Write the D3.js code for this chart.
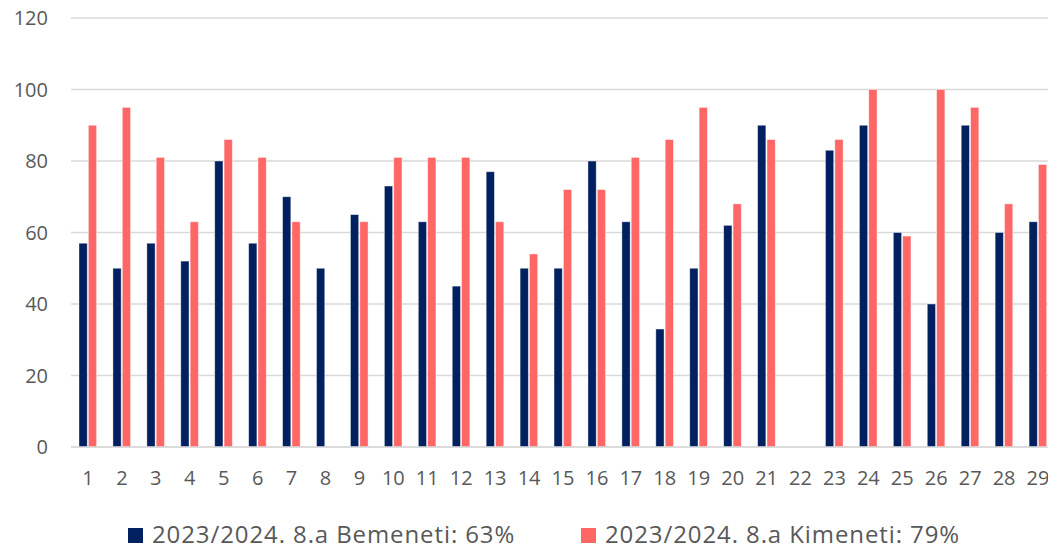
<!DOCTYPE html>
<html>
<head>
<meta charset="utf-8">
<script src="https://cdn.jsdelivr.net/npm/d3@7"></script>
<style>
    body { margin: 0; background: #fff; }
    svg { display: block; font-family: 'Open Sans', sans-serif; }
    .tick-label { fill: #595959; font-size: 20px; }
    .legend-label { fill: #595959; font-size: 24px; letter-spacing: 0.9px; }
</style>
</head>
<body>
<div id="chart"></div>
<script>
// categories (student numbers)
let categories = d3.range(1, 30).map(String);
// null = no bar
let bemeneti = [57, 50, 57, 52, 80, 57, 70, 50, 65, 73, 63, 45, 77, 50, 50,
    80, 63, 33, 50, 62, 90, null, 83, 90, 60, 40, 90, 60, 63];
let kimeneti = [90, 95, 81, 63, 86, 81, 63, null, 63, 81, 81, 81, 63, 54, 72,
    72, 81, 86, 95, 68, 86, null, 86, 100, 59, 100, 95, 68, 79];
let seriesNames = ['2023/2024. 8.a Bemeneti: 63%', '2023/2024. 8.a Kimeneti: 79%'];
let seriesColors = ['#002060', '#ff6666'];
let yTicks = [0, 20, 40, 60, 80, 100, 120];

let width = 1048,
    height = 549;

let svg = d3.select('#chart')
    .append('svg')
    .attr('width', width)
    .attr('height', height);

let x0 = d3.scaleBand()
    .domain(categories)
    .range([71, 1055]);

let x1 = d3.scaleBand()
    .domain([0, 1])
    .range([8, 25.6])
    .paddingInner(0.12);

let y = d3.scaleLinear()
    .domain([0, 120])
    .range([447, 18]);

// gridlines
svg.append('g')
    .selectAll('line')
    .data(yTicks)
    .enter()
    .append('line')
    .attr('x1', 71)
    .attr('x2', width)
    .attr('y1', d => y(d))
    .attr('y2', d => y(d))
    .attr('stroke', '#d9d9d9')
    .attr('stroke-width', 1.3);

// y labels
svg.append('g')
    .selectAll('text')
    .data(yTicks)
    .enter()
    .append('text')
    .attr('class', 'tick-label')
    .attr('x', 48)
    .attr('y', d => y(d))
    .attr('dy', '0.35em')
    .attr('text-anchor', 'end')
    .text(d => d);

// bars
let rows = categories.map(function(c, i) {
    return {cat: c, values: [bemeneti[i], kimeneti[i]]};
});

let groups = svg.append('g')
    .selectAll('g')
    .data(rows)
    .enter()
    .append('g')
    .attr('transform', d => 'translate(' + x0(d.cat) + ',0)');

groups.selectAll('rect')
    .data(d => d.values.map((v, k) => ({k: k, v: v})).filter(e => e.v !== null))
    .enter()
    .append('rect')
    .attr('x', d => x1(d.k))
    .attr('width', x1.bandwidth())
    .attr('y', d => y(d.v))
    .attr('height', d => y(0) - y(d.v))
    .attr('fill', d => seriesColors[d.k])
    .attr('stroke', '#fff')
    .attr('stroke-opacity', 0.5)
    .attr('stroke-width', 0.8);

// x axis line
svg.append('line')
    .attr('x1', 71)
    .attr('x2', width)
    .attr('y1', y(0))
    .attr('y2', y(0))
    .attr('stroke', '#d9d9d9')
    .attr('stroke-width', 1.3);

// x labels
svg.append('g')
    .selectAll('text')
    .data(categories)
    .enter()
    .append('text')
    .attr('class', 'tick-label')
    .attr('x', d => x0(d) + x0.bandwidth() / 2)
    .attr('y', 485)
    .attr('text-anchor', 'middle')
    .text(d => d);

// legend
let legendX = [128, 581];
let legend = svg.append('g')
    .selectAll('g')
    .data(seriesNames)
    .enter()
    .append('g')
    .attr('transform', (d, i) => 'translate(' + legendX[i] + ',528)');

legend.append('rect')
    .attr('width', 15)
    .attr('height', 15)
    .attr('fill', (d, i) => seriesColors[i]);

legend.append('text')
    .attr('class', 'legend-label')
    .attr('x', 24)
    .attr('y', 14.5)
    .text(d => d);
</script>
</body>
</html>
